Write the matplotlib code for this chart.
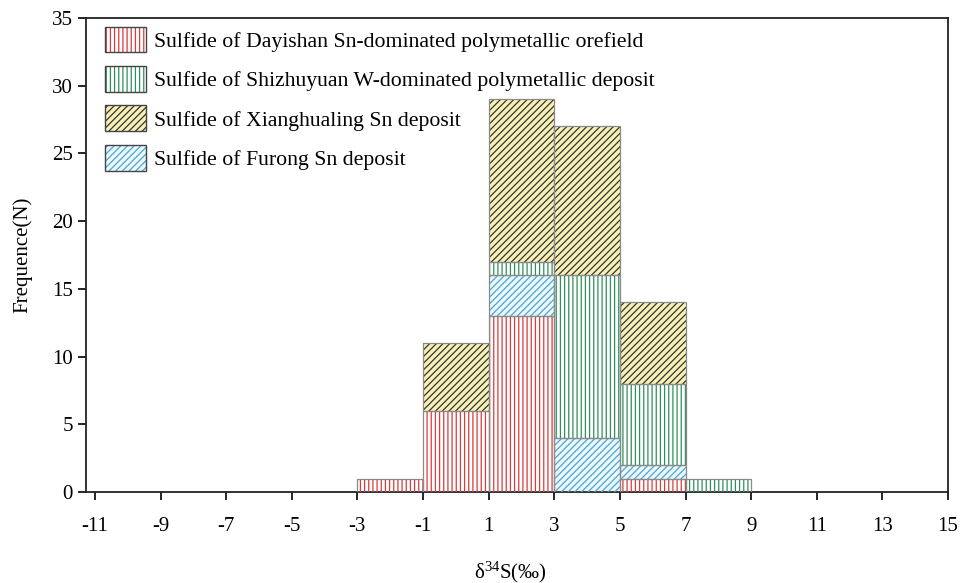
import matplotlib
matplotlib.use("Agg")
import matplotlib.pyplot as plt
from matplotlib.patches import Patch
from matplotlib.legend_handler import HandlerTuple
import numpy as np

plt.rcParams["font.family"] = ["Liberation Serif", "DejaVu Serif"]
plt.rcParams["hatch.linewidth"] = 0.9
plt.rcParams["axes.unicode_minus"] = False

# delta34S bins (left edges, width 2 permil)
bin_left = [-3, -1, 1, 3, 5, 7]
bin_width = 2

# counts per deposit, stacked bottom to top
dayishan = [1, 6, 13, 0, 1, 0]
furong = [0, 0, 3, 4, 1, 0]
shizhuyuan = [0, 0, 1, 12, 6, 1]
xianghualing = [0, 5, 12, 11, 6, 0]

series = [
    ("Sulfide of Dayishan Sn-dominated polymetallic orefield", dayishan,
     "white", "#d93a3a", "||||"),
    ("Sulfide of Furong Sn deposit", furong,
     "#eef7fb", "#45a8d6", "/////"),
    ("Sulfide of Shizhuyuan W-dominated polymetallic deposit", shizhuyuan,
     "white", "#2f8f5a", "||||"),
    ("Sulfide of Xianghualing Sn deposit", xianghualing,
     "#f7f1b5", "#333333", "/////"),
]

fig = plt.figure(figsize=(9.6, 5.83), dpi=100)
ax = fig.add_axes([0.0896, 0.156, 0.8979, 0.813])

handles = {}
bottom = np.zeros(len(bin_left))
for name, vals, face, hcol, hatch in series:
    vals = np.array(vals, dtype=float)
    x = np.array(bin_left) + bin_width / 2
    mask = vals > 0
    ax.bar(x[mask], vals[mask], width=bin_width, bottom=bottom[mask],
           color=face, edgecolor="none", linewidth=0, zorder=2)
    ax.bar(x[mask], vals[mask], width=bin_width, bottom=bottom[mask],
           facecolor="none", edgecolor=hcol, hatch=hatch, linewidth=0, zorder=3)
    ax.bar(x[mask], vals[mask], width=bin_width, bottom=bottom[mask],
           facecolor="none", edgecolor="#8a8a8a", linewidth=0.9, zorder=4)
    bottom += vals
    handles[name] = (
        Patch(facecolor=face, edgecolor="none"),
        Patch(facecolor="none", edgecolor=hcol, hatch=hatch, linewidth=0),
        Patch(facecolor="none", edgecolor="#444444", linewidth=1.0),
    )

ax.set_xlim(-11.27, 15)
ax.set_ylim(0, 35)
ax.set_xticks(np.arange(-11, 16, 2))
ax.set_yticks(np.arange(0, 36, 5))
ax.tick_params(axis="both", direction="out", length=6, width=1.2,
               labelsize=15)
ax.tick_params(axis="x", pad=12)
for sp in ax.spines.values():
    sp.set_linewidth(1.3)
    sp.set_color("#222222")

fig.text(0.532, 1 - 572 / 583, r"$\mathregular{\delta^{34}S(‰)}$",
         fontsize=15, ha="center", va="center")
ax.set_ylabel("Frequence(N)", fontsize=15, labelpad=14)

legend_order = [
    "Sulfide of Dayishan Sn-dominated polymetallic orefield",
    "Sulfide of Shizhuyuan W-dominated polymetallic deposit",
    "Sulfide of Xianghualing Sn deposit",
    "Sulfide of Furong Sn deposit",
]
ax.legend([handles[n] for n in legend_order], legend_order,
          handler_map={tuple: HandlerTuple(ndivide=1, pad=0)},
          loc="upper left", frameon=False, fontsize=15.7,
          handlelength=1.9, handleheight=1.45, handletextpad=0.33,
          labelspacing=0.62, borderaxespad=0.0, borderpad=0.0,
          bbox_to_anchor=(0.022, 0.982))

fig.savefig("out.png", dpi=100)
